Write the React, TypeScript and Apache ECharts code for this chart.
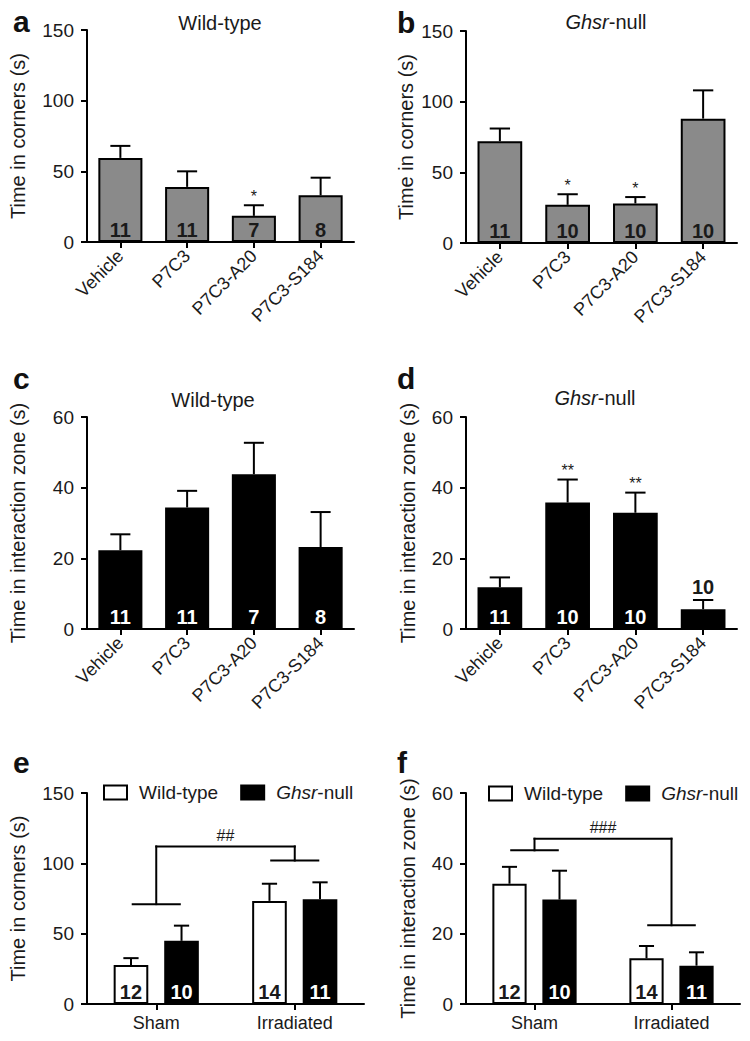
import React, { useEffect, useRef } from 'react';
import * as echarts from 'echarts';

const FONT = "'Liberation Sans', Arial, Helvetica, sans-serif";

// ---- categories ----
const drugGroups = ['Vehicle', 'P7C3', 'P7C3-A20', 'P7C3-S184'];
const conditions = ['Sham', 'Irradiated'];
const genotypes = ['Wild-type', 'Ghsr-null'];

// ---- tick labels ----
const cornersTicks = [0, 50, 100, 150];
const zoneTicks = [0, 20, 40, 60];

// ---- panel a: Wild-type, time in corners ----
const aMean = [59.5, 39, 18.5, 33];
const aSem = [8.5, 11, 7.5, 12.5];
const aN = [11, 11, 7, 8];
const aSig = ['', '', '*', ''];

// ---- panel b: Ghsr-null, time in corners ----
const bMean = [72, 27, 28, 88];
const bSem = [9, 7.5, 4.5, 20];
const bN = [11, 10, 10, 10];
const bSig = ['', '*', '*', ''];

// ---- panel c: Wild-type, time in interaction zone ----
const cMean = [22.3, 34.4, 43.8, 23.2];
const cSem = [4.5, 4.7, 8.9, 9.9];
const cN = [11, 11, 7, 8];
const cSig = ['', '', '', ''];

// ---- panel d: Ghsr-null, time in interaction zone ----
const dMean = [11.8, 35.8, 32.9, 5.6];
const dSem = [2.8, 6.5, 5.7, 2.6];
const dN = [11, 10, 10, 10];
const dSig = ['', '**', '**', ''];

// ---- panel e: time in corners, sham vs irradiated ----
const eWtMean = [27.7, 73.3];
const eWtSem = [4.9, 12.2];
const eWtN = [12, 14];
const eNullMean = [44.9, 74.5];
const eNullSem = [10.8, 12];
const eNullN = [10, 11];
const eBracketLevels = [71, 102];
const eBracketTop = 112;
const eBracketMark = '##';

// ---- panel f: time in interaction zone, sham vs irradiated ----
const fWtMean = [34.2, 13];
const fWtSem = [4.8, 3.5];
const fWtN = [12, 14];
const fNullMean = [29.7, 10.9];
const fNullSem = [8.2, 3.8];
const fNullN = [10, 11];
const fBracketLevels = [43.7, 22.4];
const fBracketTop = 47;
const fBracketMark = '###';

const GRIDS = [
  { left: 87, top: 30, width: 267, height: 212 },
  { left: 466, top: 31, width: 271, height: 212 },
  { left: 87, top: 417, width: 267, height: 212 },
  { left: 466, top: 417, width: 271, height: 212 },
  { left: 87, top: 793, width: 277, height: 211 },
  { left: 466, top: 793, width: 274, height: 211 },
];

const INK = '#1a1a1a';
const GRAY = '#8a8a8a';

function yAxis(gi: number, ticks: number[], name: string, gap: number) {
  return {
    type: 'value',
    gridIndex: gi,
    min: ticks[0],
    max: ticks[ticks.length - 1],
    interval: ticks[1] - ticks[0],
    name,
    nameLocation: 'middle',
    nameGap: gap,
    nameTextStyle: { fontSize: 20, color: INK, fontFamily: FONT },
    axisLine: { show: true, lineStyle: { color: '#000', width: 2 } },
    axisTick: { show: true, length: 6, lineStyle: { color: '#000', width: 2 } },
    axisLabel: { fontSize: 19, color: INK, fontFamily: FONT, margin: 13 },
    splitLine: { show: false },
  };
}

function xAxis(gi: number, cats: string[], rotated: boolean) {
  return {
    type: 'category',
    gridIndex: gi,
    data: cats,
    axisLine: { show: true, lineStyle: { color: '#000', width: 2 } },
    axisTick: { show: true, alignWithLabel: true, length: 6, lineStyle: { color: '#000', width: 2 } },
    axisLabel: rotated
      ? { rotate: 45, fontSize: 18, color: INK, fontFamily: FONT, margin: 11, interval: 0 }
      : { rotate: 0, fontSize: 18, color: INK, fontFamily: FONT, margin: 10, interval: 0 },
    splitLine: { show: false },
  };
}

function barSeries(
  gi: number, name: string, means: number[], sems: number[], ns: number[],
  fill: string, textColor: string, barWidth: string, axisMax: number, barGap?: string,
) {
  const h = GRIDS[gi].height;
  return {
    type: 'bar',
    name,
    xAxisIndex: gi,
    yAxisIndex: gi,
    barWidth,
    barGap: barGap || '30%',
    z: 2,
    data: means.map((v, i) => {
      const px = (v / axisMax) * h;
      if (px < 24) {
        return {
          value: v,
          label: { position: 'top', distance: (sems[i] / axisMax) * h + 3, color: INK },
        };
      }
      return { value: v };
    }),
    itemStyle: { color: fill, borderColor: '#000', borderWidth: 2 },
    label: {
      show: true,
      position: 'insideBottom',
      distance: 2,
      formatter: (p: any) => String(ns[p.dataIndex]),
      color: textColor,
      fontSize: 20,
      fontWeight: 'bold',
      fontFamily: FONT,
    },
  };
}

function errSeries(gi: number, means: number[], sems: number[], offsetFrac: number, capFrac: number, sig: string[]) {
  return {
    type: 'custom',
    xAxisIndex: gi,
    yAxisIndex: gi,
    z: 5,
    silent: true,
    data: means.map((m, i) => [i, m, sems[i]]),
    encode: { x: 0, y: 1 },
    renderItem: (params: any, api: any) => {
      const x = api.value(0);
      const m = api.value(1);
      const s = api.value(2);
      const band = api.size([1, 0])[0];
      const p0 = api.coord([x, m]);
      const p1 = api.coord([x, m + s]);
      const cx = p0[0] + band * offsetFrac;
      const cap = (band * capFrac) / 2;
      const st = { stroke: '#000', lineWidth: 2 };
      const children: any[] = [
        { type: 'line', shape: { x1: cx, y1: p0[1], x2: cx, y2: p1[1] }, style: st },
        { type: 'line', shape: { x1: cx - cap, y1: p1[1], x2: cx + cap, y2: p1[1] }, style: st },
      ];
      const mark = sig[params.dataIndex];
      if (mark) {
        children.push({
          type: 'text',
          x: cx,
          y: p1[1] - 1,
          style: {
            text: mark, fill: INK, fontSize: 16, fontFamily: FONT,
            align: 'center', verticalAlign: 'bottom', textAlign: 'center', textVerticalAlign: 'bottom',
          },
        });
      }
      return { type: 'group', children };
    },
  };
}

function bracketSeries(gi: number, levels: number[], top: number, mark: string) {
  return {
    type: 'custom',
    xAxisIndex: gi,
    yAxisIndex: gi,
    z: 5,
    silent: true,
    data: levels.map((l, i) => [i, l]),
    encode: { x: 0, y: 1 },
    renderItem: (params: any, api: any) => {
      const i = api.value(0);
      const lvl = api.value(1);
      const band = api.size([1, 0])[0];
      const p = api.coord([i, lvl]);
      const pt = api.coord([i, top]);
      const hw = band * 0.17;
      const st = { stroke: '#000', lineWidth: 2, lineCap: 'square' };
      const ch: any[] = [
        { type: 'line', shape: { x1: p[0] - hw, y1: p[1], x2: p[0] + hw, y2: p[1] }, style: st },
        { type: 'line', shape: { x1: p[0], y1: p[1], x2: p[0], y2: pt[1] }, style: st },
      ];
      if (params.dataIndex === 0) {
        const q = api.coord([levels.length - 1, top]);
        ch.push({ type: 'line', shape: { x1: pt[0], y1: pt[1], x2: q[0], y2: q[1] }, style: st });
        ch.push({
          type: 'text',
          x: (pt[0] + q[0]) / 2,
          y: pt[1] - 3,
          style: {
            text: mark, fill: INK, fontSize: 16, fontFamily: FONT,
            align: 'center', verticalAlign: 'bottom', textAlign: 'center', textVerticalAlign: 'bottom',
          },
        });
      }
      return { type: 'group', children: ch };
    },
  };
}

function letter(text: string, left: number, top: number) {
  return {
    text, left, top, padding: 0, textAlign: 'left', textVerticalAlign: 'middle',
    textStyle: { fontSize: 30, fontWeight: 'bold', color: '#111', fontFamily: FONT },
  };
}

function panelTitle(text: string, left: number, top: number) {
  return {
    text, left, top, padding: 0, textAlign: 'center', textVerticalAlign: 'middle',
    textStyle: {
      fontSize: 20, fontWeight: 'normal', color: INK, fontFamily: FONT,
      rich: {
        i: { fontSize: 20, fontStyle: 'italic', color: INK, fontFamily: FONT },
        n: { fontSize: 20, color: INK, fontFamily: FONT },
      },
    },
  };
}

function legend(left: number, top: number) {
  return {
    left, top, padding: 0, orient: 'horizontal', itemWidth: 23, itemHeight: 14, itemGap: 22,
    icon: 'rect', selectedMode: false,
    data: [
      { name: genotypes[0], itemStyle: { color: '#fff', borderColor: '#000', borderWidth: 2 } },
      { name: genotypes[1], itemStyle: { color: '#000', borderColor: '#000', borderWidth: 2 } },
    ],
    formatter: (name: string) => (name === 'Ghsr-null' ? '{i|Ghsr}{n|-null}' : '{n|' + name + '}'),
    textStyle: {
      fontSize: 19, color: INK, fontFamily: FONT, padding: [0, 0, 0, 7],
      rich: {
        i: { fontSize: 19, fontStyle: 'italic', color: INK, fontFamily: FONT },
        n: { fontSize: 19, color: INK, fontFamily: FONT },
      },
    },
  };
}

export default function App() {
  const ref = useRef<HTMLDivElement>(null);

  useEffect(() => {
    if (!ref.current) return;
    const chart = echarts.init(ref.current, null, { renderer: 'svg' });
    const cMax = cornersTicks[cornersTicks.length - 1];
    const zMax = zoneTicks[zoneTicks.length - 1];
    const option: any = {
      animation: false,
      backgroundColor: '#fff',
      textStyle: { fontFamily: FONT },
      title: [
        letter('a', 13, 21.5),
        letter('b', 397, 22.5),
        letter('c', 13, 378.5),
        letter('d', 397, 378.5),
        letter('e', 13, 762.5),
        letter('f', 397, 762.5),
        panelTitle('Wild-type', 220, 23),
        panelTitle('{i|Ghsr}{n|-null}', 606, 22),
        panelTitle('Wild-type', 213, 400),
        panelTitle('{i|Ghsr}{n|-null}', 595, 398),
      ],
      legend: [legend(103, 783), legend(488, 784)],
      grid: GRIDS.map((g) => ({ ...g, containLabel: false, outerBoundsMode: 'none' })),
      xAxis: [
        xAxis(0, drugGroups, true),
        xAxis(1, drugGroups, true),
        xAxis(2, drugGroups, true),
        xAxis(3, drugGroups, true),
        xAxis(4, conditions, false),
        xAxis(5, conditions, false),
      ],
      yAxis: [
        yAxis(0, cornersTicks, 'Time in corners (s)', 59),
        yAxis(1, cornersTicks, 'Time in corners (s)', 50),
        yAxis(2, zoneTicks, 'Time in interaction zone (s)', 59),
        yAxis(3, zoneTicks, 'Time in interaction zone (s)', 48),
        yAxis(4, cornersTicks, 'Time in corners (s)', 59),
        yAxis(5, zoneTicks, 'Time in interaction zone (s)', 48),
      ],
      series: [
        barSeries(0, 'a', aMean, aSem, aN, GRAY, INK, '66%', cMax),
        errSeries(0, aMean, aSem, 0, 0.3, aSig),
        barSeries(1, 'b', bMean, bSem, bN, GRAY, INK, '66%', cMax),
        errSeries(1, bMean, bSem, 0, 0.3, bSig),
        barSeries(2, 'c', cMean, cSem, cN, '#000', '#fff', '66%', zMax),
        errSeries(2, cMean, cSem, 0, 0.3, cSig),
        barSeries(3, 'd', dMean, dSem, dN, '#000', '#fff', '66%', zMax),
        errSeries(3, dMean, dSem, 0, 0.3, dSig),

        barSeries(4, genotypes[0], eWtMean, eWtSem, eWtN, '#fff', INK, '25%', cMax, '46%'),
        barSeries(4, genotypes[1], eNullMean, eNullSem, eNullN, '#000', '#fff', '25%', cMax, '46%'),
        errSeries(4, eWtMean, eWtSem, -0.1825, 0.11, ['', '']),
        errSeries(4, eNullMean, eNullSem, 0.1825, 0.11, ['', '']),
        bracketSeries(4, eBracketLevels, eBracketTop, eBracketMark),

        barSeries(5, genotypes[0], fWtMean, fWtSem, fWtN, '#fff', INK, '25%', zMax, '46%'),
        barSeries(5, genotypes[1], fNullMean, fNullSem, fNullN, '#000', '#fff', '25%', zMax, '46%'),
        errSeries(5, fWtMean, fWtSem, -0.1825, 0.11, ['', '']),
        errSeries(5, fNullMean, fNullSem, 0.1825, 0.11, ['', '']),
        bracketSeries(5, fBracketLevels, fBracketTop, fBracketMark),
      ],
    };
    chart.setOption(option);
    return () => chart.dispose();
  }, []);

  return (
    <div
      ref={ref}
      style={{ position: 'fixed', left: 0, top: 0, width: 750, height: 1041, background: '#fff' }}
    />
  );
}
